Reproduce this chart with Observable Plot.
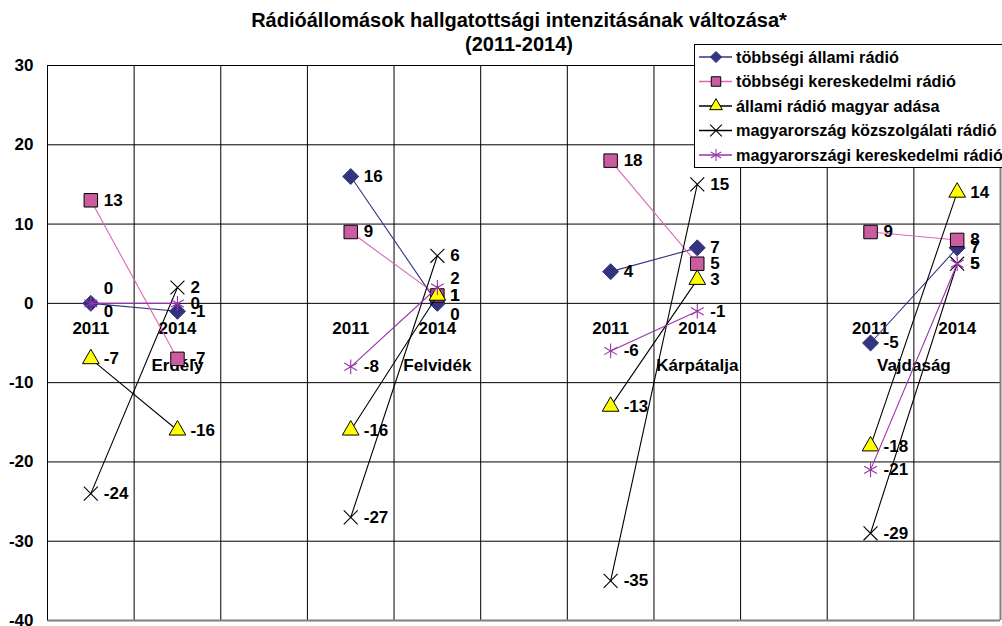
<!DOCTYPE html>
<html>
<head>
<meta charset="utf-8">
<script src="https://cdn.jsdelivr.net/npm/d3@7"></script>
<script src="https://cdn.jsdelivr.net/npm/@observablehq/plot@0.6"></script>
<style>
  html, body { margin: 0; padding: 0; background: #fff; }
  #chart { width: 1002px; height: 626px; overflow: hidden; }
</style>
</head>
<body>
<div id="chart"></div>
<script>
// ---- data ----
const title1 = "Rádióállomások hallgatottsági intenzitásának változása*";
const title2 = "(2011-2014)";
const regions = ["Erdély", "Felvidék", "Kárpátalja", "Vajdaság"];
const years = ["2011", "2014"];
const seriesNames = [
  "többségi állami rádió",
  "többségi kereskedelmi rádió",
  "állami rádió magyar adása",
  "magyarország közszolgálati rádió",
  "magyarországi kereskedelmi rádió"
];
// values per region: [2011, 2014] for Erdély, Felvidék, Kárpátalja, Vajdaság
const tobbsegiAllami      = [0, -1, 16, 0, 4, 7, -5, 7];
const tobbsegiKereskedelmi = [13, -7, 9, 1, 18, 5, 9, 8];
const allamiMagyar        = [-7, -16, -16, 1, -13, 3, -18, 14];
const magyarKozszolgalati = [-24, 2, -27, 6, -35, 15, -29, 5];
const magyarKereskedelmi  = [0, 0, -8, 2, -6, -1, -21, 5];
const yTicks = [-40, -30, -20, -10, 0, 10, 20, 30];

// ---- styling / layout ----
const seriesValues = [tobbsegiAllami, tobbsegiKereskedelmi, allamiMagyar, magyarKozszolgalati, magyarKereskedelmi];
const styles = [
  {line: "#333380", symbol: "diamond2", fill: "#333380", stroke: "#333380", r: 7.2, sw: 1},
  {line: "#dd66bb", symbol: "square", fill: "#cc5ca0", stroke: "#000", r: 7.6, sw: 1},
  {line: "#000", symbol: "triangle", fill: "#ffff00", stroke: "#000", r: 6.2, sw: 1},
  {line: "#000", symbol: "times", fill: "none", stroke: "#000", r: 6.4, sw: 1.1},
  {line: "#9933aa", symbol: "asterisk", fill: "none", stroke: "#9933aa", r: 7.0, sw: 1.1}
];
const slotsPerRegion = 3;
const regionLabelShift = [1, 1, 1, 0.5];
const labelNudge = {"0-0": -15, "4-0": 8, "4-4": -9, "0-4": 11};
const FONT = "'Liberation Sans', Arial, sans-serif";

const points = [];
seriesValues.forEach((vals, s) => {
  vals.forEach((v, k) => {
    const r = Math.floor(k / 2), yi = k % 2;
    points.push({s, series: seriesNames[s], region: regions[r], year: years[yi],
      slot: r * slotsPerRegion + yi, value: v, key: s + "-" + (r * slotsPerRegion + yi)});
  });
});
const slotLabels = [];
regions.forEach((reg, r) => years.forEach((y, yi) => slotLabels.push({slot: r * slotsPerRegion + yi, year: y})));
const nSlots = regions.length * slotsPerRegion - 1;
const boundaries = d3.range(0.5, nSlots - 0.5, 1);

const marks = [
  Plot.gridY(yTicks, {stroke: "#000", strokeOpacity: 1, strokeWidth: 1}),
  Plot.ruleX(boundaries, {stroke: "#000", strokeWidth: 1}),
  Plot.ruleX([nSlots - 0.5], {stroke: "#808080", strokeWidth: 2}),
  Plot.ruleY([-40], {stroke: "#808080", strokeWidth: 2}),
  Plot.ruleX([-0.5], {stroke: "#000", strokeWidth: 1}),
  Plot.axisY(yTicks, {tickSize: 6, tickPadding: 8, fontSize: 17, fontWeight: "bold", fill: "#000", stroke: null, tickFormat: d => String(d), anchor: "left", label: null}),
  Plot.text(slotLabels, {x: "slot", y: () => 0, text: "year", dy: 25, fontSize: 17, fontWeight: "bold", fill: "#000"}),
  Plot.text(regions, {x: (d, i) => i * slotsPerRegion + regionLabelShift[i], y: () => 0, text: d => d, dy: 62, fontSize: 17, fontWeight: "bold", fill: "#000"})
];
styles.forEach((st, s) => {
  const data = points.filter(d => d.s === s);
  marks.push(Plot.line(data, {x: "slot", y: "value", z: "region", stroke: st.line, strokeWidth: 1.1}));
  marks.push(Plot.dot(data, {x: "slot", y: "value", symbol: () => st.symbol, r: st.r, fill: st.fill, stroke: st.stroke, strokeWidth: st.sw}));
});
const nudges = [0, ...new Set(Object.values(labelNudge))];
nudges.forEach(n => {
  const data = points.filter(d => (labelNudge[d.key] || 0) === n);
  marks.push(Plot.text(data, {x: "slot", y: "value", text: d => String(d.value), dx: 13, dy: n, textAnchor: "start", fontSize: 17, fontWeight: "bold", fill: "#000"}));
});

const chart = Plot.plot({
  width: 1002,
  height: 626,
  marginLeft: 47,
  marginRight: 2,
  marginTop: 65,
  marginBottom: 6,
  x: {domain: [-0.5, nSlots - 0.5], axis: null},
  y: {domain: [-40, 30], axis: null},
  style: {fontFamily: FONT, background: "#fff", overflow: "visible"},
  marks
});
document.getElementById("chart").appendChild(chart);

// title
const svg = d3.select(chart);
svg.append("text").attr("x", 519).attr("y", 27).attr("text-anchor", "middle")
  .attr("fill", "#000").style("font", "bold 20px " + FONT).text(title1);
svg.append("text").attr("x", 519).attr("y", 51).attr("text-anchor", "middle")
  .attr("fill", "#000").style("font", "bold 20px " + FONT).text(title2);

// legend
const lg = svg.append("g").attr("text-anchor", "start");
lg.append("rect").attr("x", 694.5).attr("y", 44.5).attr("width", 330).attr("height", 123)
  .attr("fill", "#fff").attr("stroke", "#000").attr("stroke-width", 1);
const symMap = {diamond2: d3.symbolDiamond2, square: d3.symbolSquare, triangle: d3.symbolTriangle, times: d3.symbolTimes, asterisk: d3.symbolAsterisk};
const legSize = {diamond2: 80, square: 90, triangle: 70, times: 90, asterisk: 100};
seriesNames.forEach((name, i) => {
  const st = styles[i];
  const y = 57 + i * 24.5;
  lg.append("line").attr("x1", 699).attr("x2", 732).attr("y1", y).attr("y2", y)
    .attr("stroke", st.line).attr("stroke-width", 1.3);
  lg.append("path").attr("d", d3.symbol(symMap[st.symbol], legSize[st.symbol])())
    .attr("transform", `translate(716,${y})`)
    .attr("fill", st.fill).attr("stroke", st.stroke).attr("stroke-width", st.sw);
  lg.append("text").attr("x", 736).attr("y", y).attr("dy", "0.36em").attr("text-anchor", "start")
    .style("font", "bold 16.3px " + FONT).attr("fill", "#000").text(name);
});
</script>
</body>
</html>
